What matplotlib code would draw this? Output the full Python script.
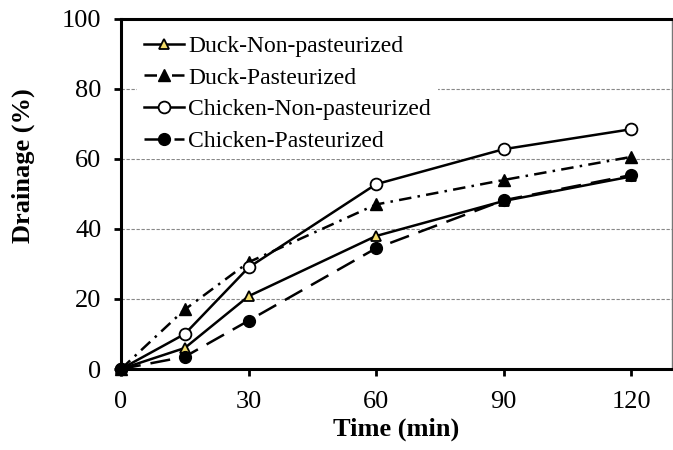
import matplotlib.pyplot as plt

plt.rcParams['font.family'] = ['Liberation Serif', 'DejaVu Serif']

time = [0, 15, 30, 60, 90, 120]
duck_np = [0, 6, 20.8, 38, 48, 55]
duck_p = [0, 17, 30.5, 47, 54, 60.6]
chick_np = [0, 10, 29, 52.8, 62.8, 68.5]
chick_p = [0, 3.5, 13.8, 34.5, 48.2, 55.4]

fig = plt.figure(figsize=(6.73, 4.5), dpi=100)
ax = fig.add_axes([0.1798, 0.18, 0.8187, 0.7778])

lw = 1.8
ax.plot(time, duck_np, color='black', lw=lw, marker='^', ms=7.5,
        mfc='#f3dc6a', mec='black', mew=1.3, label='Duck-Non-pasteurized',
        zorder=3, clip_on=False)
ax.plot(time, duck_p, color='black', lw=lw, dashes=(5, 2.5, 1, 2.5), marker='^', ms=9,
        mfc='black', mec='black', label='Duck-Pasteurized', zorder=3, clip_on=False)
ax.plot(time, chick_np, color='black', lw=lw, marker='o', ms=8.5,
        mfc='white', mec='black', mew=1.3, label='Chicken-Non-pasteurized',
        zorder=3, clip_on=False)
ax.plot(time, chick_p, color='black', lw=lw, dashes=(8, 4), marker='o', ms=8.5,
        mfc='black', mec='black', label='Chicken-Pasteurized', zorder=3, clip_on=False)

ax.set_xlim(0, 129.6)
ax.set_ylim(0, 100)
ax.set_xticks([0, 30, 60, 90, 120])
ax.set_yticks([0, 20, 40, 60, 80, 100])
ax.yaxis.grid(True, linestyle=(0, (3, 1.5)), color='#888888', lw=0.8)
ax.set_axisbelow(True)

for s in ['left', 'bottom', 'top']:
    ax.spines[s].set_linewidth(2.2)
    ax.spines[s].set_color('black')
ax.spines['right'].set_linewidth(1.0)
ax.spines['right'].set_color('#777777')

ax.tick_params(axis='both', direction='out', length=5, width=2, labelsize=19,
               top=False, right=False)
ax.tick_params(axis='y', pad=9)
ax.tick_params(axis='x', pad=11)
ax.set_xlabel('Time (min)', fontsize=19, fontweight='bold', labelpad=3)
ax.set_ylabel('Drainage (%)', fontsize=19, fontweight='bold')
ax.yaxis.set_label_coords(-0.157, 0.58)

leg = ax.legend(loc='upper left', bbox_to_anchor=(0.011, 1.0), fontsize=17,
                frameon=True, framealpha=1, edgecolor='none', facecolor='white',
                handlelength=1.7, handletextpad=0.2, labelspacing=0.43,
                borderpad=0.3, borderaxespad=0.4)
leg.get_frame().set_linewidth(0)

fig.savefig('out.png', dpi=100)
